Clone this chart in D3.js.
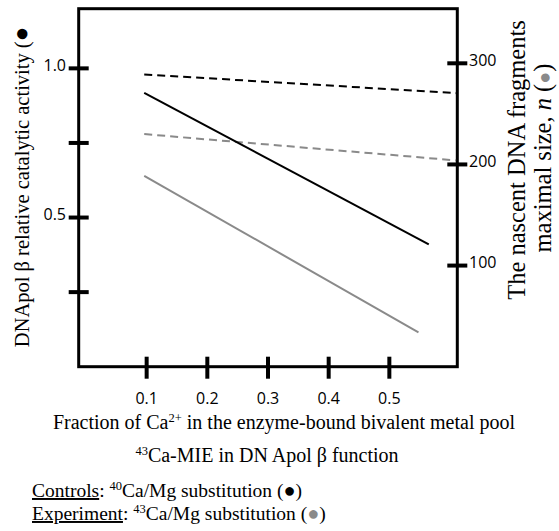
<!DOCTYPE html>
<html>
<head>
<meta charset="utf-8">
<script src="https://cdn.jsdelivr.net/npm/d3@7"></script>
<style>
  body { margin: 0; background: #fff; }
  svg { display: block; }
  .serif { font-family: 'Liberation Serif', 'Times New Roman', serif; }
  .tick-label { font-family: 'Open Sans', sans-serif; font-size: 16px; }
</style>
</head>
<body>
<svg width="559" height="531"></svg>
<script>
// fraction of Ca2+ (x) and values
const xTicks = [0.1, 0.2, 0.3, 0.4, 0.5];
const leftTicks = [0.25, 0.5, 0.75, 1.0];
const leftTickLabels = ['', '0.5', '', '1.0'];
const rightTicks = [100, 200, 300];

const controlsActivityX = [0.096, 0.565];
const controlsActivity = [0.918, 0.41];
const experimentActivityX = [0.096, 0.548];
const experimentActivity = [0.64, 0.115];
const controlsSizeX = [0.096, 0.61];
const controlsSize = [289, 270.5];
const experimentSizeX = [0.096, 0.61];
const experimentSize = [230, 204];

const GRAY = '#8a8a8a';

const svg = d3.select('svg');
const box = {left: 78.7, right: 457.3, top: 8.7, bottom: 366.7};

const x = d3.scaleLinear().domain([-0.012, 0.612]).range([box.left, box.right]);
const yL = d3.scaleLinear().domain([0, 1.2]).range([box.bottom, box.top]);
const yR = d3.scaleLinear().domain([0, 354]).range([box.bottom, box.top]);

// frame
svg.append('rect')
    .attr('x', box.left).attr('y', box.top)
    .attr('width', box.right - box.left).attr('height', box.bottom - box.top)
    .attr('fill', 'none').attr('stroke', '#000').attr('stroke-width', 3);

// ticks
svg.selectAll('.xtick').data(xTicks).enter().append('line')
    .attr('x1', d => x(d)).attr('x2', d => x(d))
    .attr('y1', box.bottom - 10).attr('y2', box.bottom + 12)
    .attr('stroke', '#000').attr('stroke-width', 4);
svg.selectAll('.xlab').data(xTicks).enter().append('text')
    .attr('class', 'tick-label')
    .attr('x', d => x(d)).attr('y', 404)
    .attr('text-anchor', 'middle')
    .text(d => d.toFixed(1));

svg.selectAll('.ltick').data(leftTicks).enter().append('line')
    .attr('x1', box.left - 10).attr('x2', box.left + 10)
    .attr('y1', d => yL(d)).attr('y2', d => yL(d))
    .attr('stroke', '#000').attr('stroke-width', 4);
svg.selectAll('.llab').data(leftTicks).enter().append('text')
    .attr('class', 'tick-label')
    .attr('x', 66).attr('y', d => yL(d) + 2.5)
    .attr('text-anchor', 'end')
    .text((d, i) => leftTickLabels[i]);

svg.selectAll('.rtick').data(rightTicks).enter().append('line')
    .attr('x1', box.right - 10).attr('x2', box.right + 10)
    .attr('y1', d => yR(d)).attr('y2', d => yR(d))
    .attr('stroke', '#000').attr('stroke-width', 4);
svg.selectAll('.rlab').data(rightTicks).enter().append('text')
    .attr('class', 'tick-label')
    .attr('x', 469).attr('y', d => yR(d) + 2.5)
    .text(d => d);

// series
function drawLine(xs, ys, yScale, color, dash) {
    const line = d3.line().x(d => x(d[0])).y(d => yScale(d[1]));
    svg.append('path')
        .datum(d3.zip(xs, ys))
        .attr('d', line)
        .attr('fill', 'none')
        .attr('stroke', color)
        .attr('stroke-width', 2)
        .attr('stroke-dasharray', dash || null);
}
drawLine(controlsSizeX, controlsSize, yR, '#000', '8,5');
drawLine(experimentSizeX, experimentSize, yR, GRAY, '8,5');
drawLine(controlsActivityX, controlsActivity, yL, '#000');
drawLine(experimentActivityX, experimentActivity, yL, GRAY);

// axis titles
const lt = svg.append('text').attr('class', 'serif')
    .attr('transform', 'translate(29,187) rotate(-90)')
    .attr('text-anchor', 'middle')
    .style('font-size', '20.5px');
lt.append('tspan').text('DNApol β relative catalytic activity (');
lt.append('tspan').style('font-size', '24px').text('●');

const rt = svg.append('text').attr('class', 'serif')
    .attr('transform', 'translate(525,160) rotate(-90)')
    .attr('text-anchor', 'middle')
    .style('font-size', '24.5px');
rt.append('tspan').attr('x', 0).attr('y', 0).text('The nascent DNA fragments');
const rt2 = svg.append('text').attr('class', 'serif')
    .attr('transform', 'translate(551,158) rotate(-90)')
    .attr('text-anchor', 'middle')
    .style('font-size', '24.5px');
rt2.append('tspan').text('maximal size, ');
rt2.append('tspan').style('font-style', 'italic').text('n');
rt2.append('tspan').text(' (');
rt2.append('tspan').attr('fill', GRAY).style('font-size', '20px').text('●');
rt2.append('tspan').text(')');

// bottom texts
const xt = svg.append('text').attr('class', 'serif')
    .attr('x', 284).attr('y', 429)
    .attr('text-anchor', 'middle')
    .style('font-size', '20px');
xt.append('tspan').text('Fraction of Ca');
xt.append('tspan').attr('dy', -7).style('font-size', '12.5px').text('2+');
xt.append('tspan').attr('dy', 7).text(' in the enzyme-bound bivalent metal pool');

const st = svg.append('text').attr('class', 'serif')
    .attr('x', 267).attr('y', 462)
    .attr('text-anchor', 'middle')
    .style('font-size', '20px');
st.append('tspan').attr('dy', -7).style('font-size', '12.5px').text('43');
st.append('tspan').attr('dy', 7).text('Ca-MIE in DN Apol β function');

function legendRow(y, label, iso, color) {
    const t = svg.append('text').attr('class', 'serif')
        .attr('x', 32).attr('y', y)
        .style('font-size', '19.5px');
    t.append('tspan').style('text-decoration', 'underline').text(label);
    t.append('tspan').text(': ');
    t.append('tspan').attr('dy', -7).style('font-size', '12.5px').text(iso);
    t.append('tspan').attr('dy', 7).text('Ca/Mg substitution (');
    t.append('tspan').attr('fill', color).style('font-size', '20px').text('●');
    t.append('tspan').text(')');
}
legendRow(497, 'Controls', '40', '#000');
legendRow(520, 'Experiment', '43', GRAY);
</script>
</body>
</html>
